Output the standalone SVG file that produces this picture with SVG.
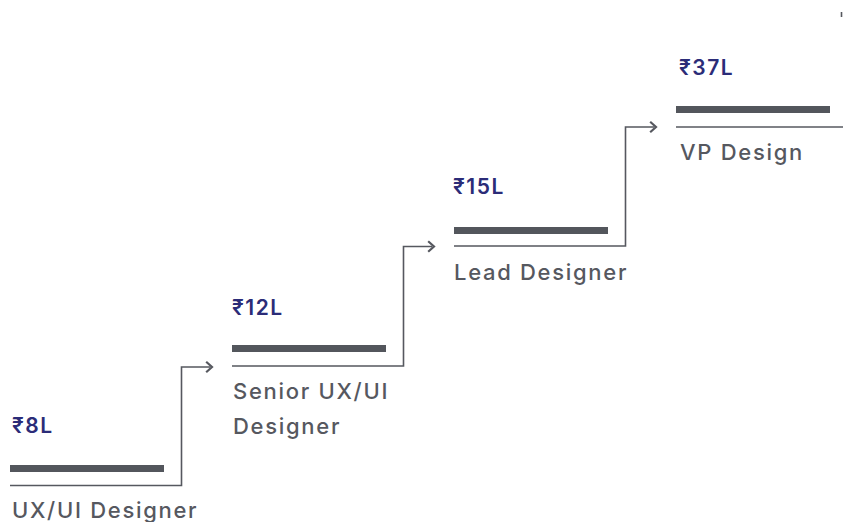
<svg xmlns="http://www.w3.org/2000/svg" width="843" height="522" viewBox="0 0 843 522">
<defs>
<style>
.amt{font-family:Inter,"Noto Sans","DejaVu Sans",sans-serif;font-size:21px;font-weight:600;fill:#2b2c78;letter-spacing:1.5px}
.lbl{font-family:Inter,"Noto Sans","DejaVu Sans",sans-serif;font-size:22px;font-weight:500;fill:#56585f;letter-spacing:1.7px}
.bar{fill:#53565c}
.conn{fill:none;stroke:#56585f;stroke-width:1.6}
.head{fill:none;stroke:#56585f;stroke-width:2.2;stroke-linecap:square;stroke-linejoin:miter}
</style>
</defs>
<rect width="843" height="522" fill="#fff"/>
<g id="step1">
<text class="amt" x="12" y="433">₹8L</text>
<rect class="bar" x="10" y="465" width="154" height="7"/>
<text class="lbl" x="12" y="518">UX/UI Designer</text>
</g>
<g id="step2">
<text class="amt" x="232" y="315">₹12L</text>
<rect class="bar" x="232" y="345" width="154" height="7"/>
<text class="lbl" x="233" y="399">Senior UX/UI</text>
<text class="lbl" x="233" y="434">Designer</text>
</g>
<g id="step3">
<text class="amt" x="453" y="194">₹15L</text>
<rect class="bar" x="454" y="227" width="154" height="7"/>
<text class="lbl" x="454" y="280">Lead Designer</text>
</g>
<g id="step4">
<text class="amt" x="679" y="75">₹37L</text>
<rect class="bar" x="676" y="106" width="154" height="7"/>
<text class="lbl" x="680" y="160">VP Design</text>
</g>
<g id="connectors">
<path class="conn" d="M10 485.5H181.5V367H210"/>
<path class="head" d="M207 362.5L212 367L207 371.5"/>
<path class="conn" d="M232 366H403.5V246.5H432"/>
<path class="head" d="M429 242L434 246.5L429 251"/>
<path class="conn" d="M454 246H625.5V127H654"/>
<path class="head" d="M651 122.5L656 127L651 131.5"/>
<path class="conn" d="M676 127H843"/>
<path class="conn" d="M841.5 12V17"/>
</g>
</svg>
